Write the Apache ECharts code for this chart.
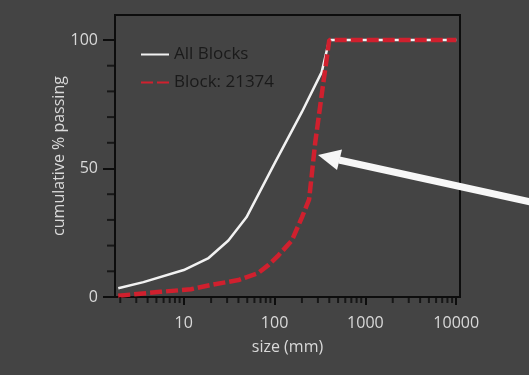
<!DOCTYPE html>
<html>
<head>
<meta charset="utf-8">
<script src="https://cdn.jsdelivr.net/npm/echarts@6/dist/echarts.min.js"></script>
<style>
  html, body { margin: 0; padding: 0; background: #444444; }
  #chart { width: 529px; height: 375px; }
</style>
</head>
<body>
<div id="chart"></div>
<script>
// size (mm) vs cumulative % passing
var sizesAll = [1.9, 3.6, 10, 18.5, 31, 49, 100, 200, 330, 400, 10000]
var passingAll = [3.4, 5.8, 10.5, 15, 22, 31, 52, 72, 87.5, 100, 100]

var sizesBlock = [1.9, 5.5, 12, 20, 40, 66, 86, 111, 155, 200, 240, 280, 340, 400, 10000]
var passingBlock = [0.5, 2, 3, 4.7, 6.6, 9.3, 12.5, 16.3, 22, 31, 38, 60, 82, 100, 100]

var majorTicks = [10, 100, 1000, 10000]
var minorTicks = [2, 3, 4, 5, 6, 7, 8, 9, 20, 30, 40, 50, 60, 70, 80, 90,
  200, 300, 400, 500, 600, 700, 800, 900, 2000, 3000, 4000, 5000, 6000, 7000, 8000, 9000]
var yMinorTicks = [10, 20, 30, 40, 60, 70, 80, 90]
var xMin = 1.75
var xMax = 11000

var chartDom = document.getElementById("chart")
var myChart = echarts.init(chartDom)

function pairs(xs, ys) {
  return xs.map(function (x, i) { return [x, ys[i]] })
}

var font = "'Open Sans', 'Noto Sans', sans-serif"
var legendText = { color: "#1a1a1a", fontSize: 17, fontFamily: font }
var tickColor = "#0d0d0d"

var option = {
  darkMode: false,
  backgroundColor: "#444444",
  animation: false,
  textStyle: { fontFamily: font },
  legend: {
    left: 135,
    top: 41,
    orient: "vertical",
    itemWidth: 28,
    itemHeight: 14,
    itemGap: 11,
    itemStyle: { opacity: 0 },
    textStyle: legendText,
    data: [
      { name: "All Blocks", textStyle: legendText },
      { name: "Block: 21374", textStyle: legendText }
    ]
  },
  grid: [
    // outer frame
    { left: 115, right: 69, top: 15, bottom: 78, show: true, borderColor: tickColor, borderWidth: 2, backgroundColor: "transparent" },
    // data area: 0..100 maps to y 297..40
    { left: 115, right: 69, top: 40, bottom: 78 }
  ],
  xAxis: [
    { gridIndex: 0, type: "value", show: false },
    {
      gridIndex: 1,
      type: "log",
      logBase: 10,
      min: xMin,
      max: xMax,
      name: "size (mm)",
      nameLocation: "middle",
      nameGap: 42,
      nameTextStyle: { color: "#d9d9d9", fontSize: 16, fontFamily: font },
      axisLine: { show: true, lineStyle: { color: tickColor, width: 2 } },
      axisTick: { show: true, length: 8, lineStyle: { color: tickColor, width: 2 }, customValues: majorTicks },
      axisLabel: {
        color: "#d9d9d9", fontSize: 16, margin: 18, customValues: majorTicks,
        formatter: function (v) { return String(Math.round(v)) }
      },
      splitLine: { show: false }
    }
  ],
  yAxis: [
    {
      gridIndex: 0,
      type: "value",
      min: 0,
      max: 1,
      name: "cumulative % passing",
      nameLocation: "middle",
      nameGap: 48,
      nameTextStyle: { color: "#d9d9d9", fontSize: 16, fontFamily: font },
      axisLine: { show: false },
      axisTick: { show: false },
      axisLabel: { show: false },
      splitLine: { show: false }
    },
    {
      gridIndex: 1,
      type: "value",
      min: 0,
      max: 100,
      interval: 50,
      axisLine: { show: true, lineStyle: { color: tickColor, width: 2 } },
      axisTick: { show: true, length: 12, lineStyle: { color: tickColor, width: 2 } },
      axisLabel: { color: "#d9d9d9", fontSize: 16, margin: 17 },
      splitLine: { show: false }
    }
  ],
  series: [
    {
      // minor log ticks below the x axis
      type: "scatter",
      xAxisIndex: 1,
      yAxisIndex: 1,
      clip: false,
      symbol: "rect",
      symbolSize: [2, 6],
      symbolOffset: [0, "50%"],
      itemStyle: { color: tickColor },
      emphasis: { disabled: true },
      tooltip: { show: false },
      data: minorTicks.map(function (v) { return [v, 0] }),
      z: 5
    },
    {
      // minor ticks left of the y axis
      type: "scatter",
      xAxisIndex: 1,
      yAxisIndex: 1,
      clip: false,
      symbol: "rect",
      symbolSize: [8, 2],
      symbolOffset: ["-50%", 0],
      itemStyle: { color: tickColor },
      emphasis: { disabled: true },
      tooltip: { show: false },
      data: yMinorTicks.map(function (v) { return [xMin, v] }),
      z: 5
    },
    {
      name: "All Blocks",
      type: "line",
      xAxisIndex: 1,
      yAxisIndex: 1,
      symbol: "none",
      clip: false,
      lineStyle: { color: "#f2f2f2", width: 2.5 },
      itemStyle: { color: "#f2f2f2" },
      data: pairs(sizesAll, passingAll),
      z: 3
    },
    {
      name: "Block: 21374",
      type: "line",
      xAxisIndex: 1,
      yAxisIndex: 1,
      symbol: "none",
      clip: false,
      lineStyle: { color: "#d0202e", width: 4.5, type: [12, 4] },
      itemStyle: { color: "#d0202e" },
      data: pairs(sizesBlock, passingBlock),
      z: 4
    }
  ],
  graphic: [
    {
      type: "group",
      z: 100,
      children: [
        { type: "line", shape: { x1: 339, y1: 160, x2: 535, y2: 203 }, style: { stroke: "#f7f7f7", lineWidth: 7 } },
        { type: "polygon", shape: { points: [[318, 155], [342, 149.5], [337, 170]] }, style: { fill: "#f7f7f7" } }
      ]
    }
  ]
}

option && myChart.setOption(option)

window.addEventListener("resize", function () {
  myChart.resize()
})
</script>
</body>
</html>
